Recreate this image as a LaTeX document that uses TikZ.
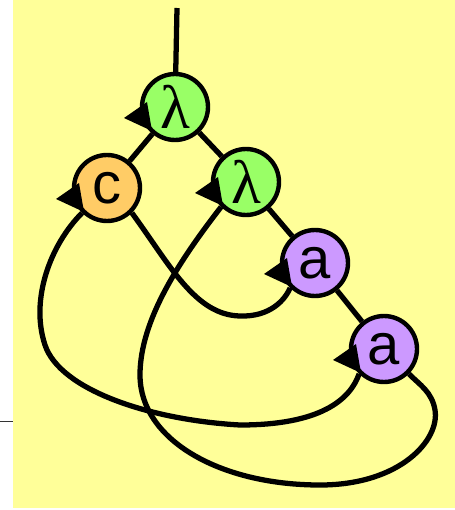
\documentclass[tikz,border=0pt]{standalone}
\usepackage{fontspec}
\setmainfont{Liberation Sans}
\newfontfamily\lamfont{Liberation Serif}
\usetikzlibrary{calc}

\definecolor{bgyellow}{HTML}{FFFF99}
\definecolor{lamgreen}{HTML}{99FF66}
\definecolor{appurple}{HTML}{CC99FF}
\definecolor{conorange}{HTML}{FFCC66}

\tikzset{
	agent/.style={circle, draw, line width=2.5pt, minimum size=1.32cm, inner sep=0pt,
		font=\fontsize{33}{36}\selectfont},
	lam/.style={agent, fill=lamgreen, font=\fontsize{35}{38}\selectfont\lamfont},
	app/.style={agent, fill=appurple},
	con/.style={agent, fill=conorange},
	wire/.style={line width=3pt}
}

\begin{document}
\begin{tikzpicture}[x=0.02cm, y=-0.02cm]
	\useasboundingbox (0,0) rectangle (455,510);
	\fill[bgyellow] (13,0) rectangle (455,508);
	\draw[line width=0.8pt, black!80] (0,421.5) -- (13,421.5);

	\node[lam] (lamA) at (175,107) {λ};
	\node[con] (c) at (107,188) {c};
	\node[lam] (lamB) at (246,182) {λ};
	\node[app] (a1) at (315,263) {a};
	\node[app] (a2) at (384,349) {a};
	\coordinate (root) at (177,8);

	\draw[wire] (root) -- (lamA);
	\draw[wire] (lamA) -- (c);
	\draw[wire] (lamA) -- (lamB);
	\draw[wire] (lamB) -- (a1);
	\draw[wire] (a1) -- (a2);

	\draw[wire] (c.-45) .. controls (170,265) and (195,315) .. (240,316)
		.. controls (270,317) and (285,300) .. (a1.-135);
	\draw[wire] (c.-135) .. controls (50,245) and (30,300) .. (45,345)
		.. controls (60,390) and (150,420) .. (240,425)
		.. controls (320,425) and (350,400) .. (a2.-135);
	\draw[wire] (lamB.-135) .. controls (180,260) and (140,320) .. (140,375)
		.. controls (140,440) and (220,485) .. (320,485)
		.. controls (400,485) and (440,440) .. (435,410)
		.. controls (432,392) and (420,385) .. (a2.-45);

	% principal ports
	\foreach \n in {lamA, c, lamB, a1, a2}
		\fill ($(\n)+(-51,11)$) -- ($(\n)+(-28,-5)$) -- ($(\n)+(-23,24)$) -- cycle;
\end{tikzpicture}
\end{document}
